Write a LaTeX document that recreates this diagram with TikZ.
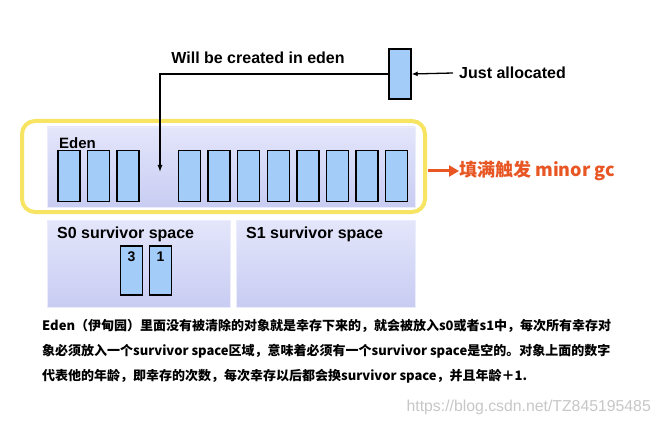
\documentclass[tikz,border=0pt]{standalone}
\usepackage{fontspec}
\setmainfont{Liberation Sans}
\newfontfamily\cjk{Noto Sans CJK SC}
\usetikzlibrary{arrows.meta}
\definecolor{boxblue}{RGB}{164,204,248}
\definecolor{lavtop}{RGB}{228,230,251}
\definecolor{lavbot}{RGB}{200,204,242}
\definecolor{hlyellow}{RGB}{246,228,98}
\definecolor{gcorange}{RGB}{232,86,36}
\tikzset{
  objbox/.style={draw=black, line width=1.4pt, fill=boxblue, minimum width=22pt, minimum height=51pt, inner sep=0pt},
  space/.style={top color=lavtop, bottom color=lavbot, draw=lavtop!70!white, line width=0.6pt},
  lbl/.style={font=\bfseries\fontsize{16}{19}\selectfont, inner sep=0pt},
  numlbl/.style={font=\bfseries\fontsize{14}{16}\selectfont, inner sep=0pt}
}
\begin{document}
\begin{tikzpicture}[x=1pt,y=-1pt]
\useasboundingbox (0,0) rectangle (659,425);
\fill[white] (0,0) rectangle (659,425);
% spaces
\shade[space] (47,127) rectangle (415,207);
\shade[space] (47,220) rectangle (230,307);
\shade[space] (236,220) rectangle (415,307);
% labels of spaces
\node[lbl, font=\bfseries\fontsize{15}{18}\selectfont, anchor=west] (edenlbl) at (59,143) {Eden};
\node[lbl, anchor=west] (s0lbl) at (57,234) {S0 survivor space};
\node[lbl, anchor=west] (s1lbl) at (246,234) {S1 survivor space};
% eden objects
\foreach \i/\x in {1/69,2/98.5,3/128}{
  \node[objbox] (e\i) at (\x,176) {};
}
\foreach \i in {0,...,7}{
  \node[objbox] (r\i) at (189.5+\i*29.6,176) {};
}
% survivor objects
\node[objbox, minimum height=49pt] (b3) at (131.5,270.5) {};
\node[objbox, minimum height=49pt] (b1) at (160.5,270.5) {};
\node[numlbl, anchor=north] (n3) at ([yshift=-6pt]b3.north) {3};
\node[numlbl, anchor=north] (n1) at ([yshift=-6pt]b1.north) {1};
% yellow highlight
\draw[hlyellow, line width=4pt, rounded corners=13pt] (22,121) rectangle (425,212);
% just allocated
\node[objbox, minimum height=50pt] (alloc) at (400,74) {};
\node[lbl, anchor=west] (ja) at (459,73) {Just allocated};
\draw[line width=1.3pt, -{Latex[length=6pt,width=5pt]}] (ja.west) ++(-6pt,0) coordinate (jastart) -- (alloc.east);
\node[lbl] (created) at (258,58) {Will be created in eden};
\coordinate (tip) at (160,172);
\draw[line width=1.3pt, -{Latex[length=7pt,width=5pt]}] (alloc.west) -| (tip);
% minor gc
\node[font=\cjk\bfseries\fontsize{18}{21}\selectfont, text=gcorange, anchor=west, inner sep=0pt] (gc) at (459,171) {填满触发 minor gc};
\draw[gcorange, line width=3pt, -{Triangle[length=10pt,width=11pt]}] (428,171) -- (gc.west);
% caption
\node[font=\cjk\bfseries\fontsize{13}{25}\selectfont, anchor=north west, align=left, inner sep=0pt] (cap) at (42,319) {Eden（伊甸园）里面没有被清除的对象就是幸存下来的，就会被放入s0或者s1中，每次所有幸存对\\象必须放入一个survivor space区域，意味着必须有一个survivor space是空的。对象上面的数字\\代表他的年龄，即幸存的次数，每次幸存以后都会换survivor space，并且年龄＋1.};
% watermark
\node[font=\fontsize{15.8}{18}\selectfont, text=black!22, anchor=east, inner sep=0pt] (wm) at (651,407) {https://blog.csdn.net/TZ845195485};
\end{tikzpicture}
\end{document}
